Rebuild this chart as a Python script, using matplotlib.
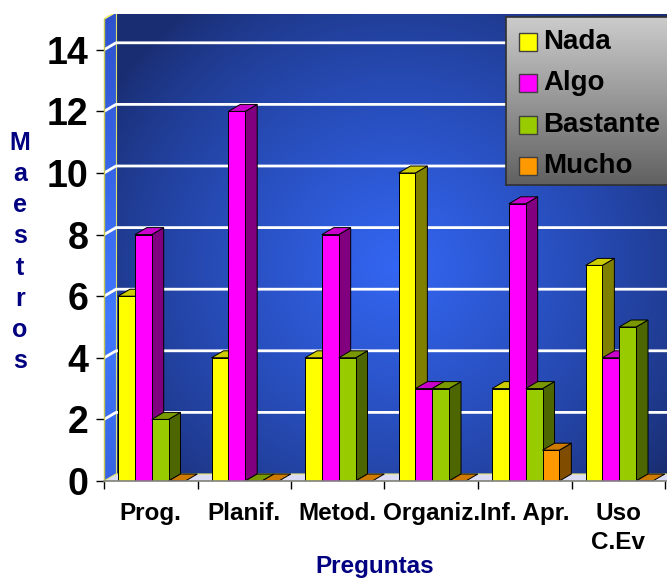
import matplotlib
matplotlib.use("Agg")
import matplotlib.pyplot as plt
import numpy as np
from matplotlib.patches import Polygon, Rectangle

plt.rcParams['font.family'] = ['Liberation Sans', 'DejaVu Sans']
plt.rcParams['font.weight'] = 'bold'

# data
preguntas = ['Prog.', 'Planif.', 'Metod.', 'Organiz.', 'Inf. Apr.', 'Uso\nC.Ev']
series = ['Nada', 'Algo', 'Bastante', 'Mucho']
nada = [6, 4, 4, 10, 3, 7]
algo = [8, 12, 8, 3, 9, 4]
bastante = [2, 0, 4, 3, 3, 5]
mucho = [0, 0, 0, 0, 1, 0]
valores = [nada, algo, bastante, mucho]

front_cols = ['#ffff00', '#ff00ff', '#99cc00', '#ff9900']
top_cols = ['#cccc00', '#cc00cc', '#7a9900', '#cc7a00']
side_cols = ['#808000', '#800080', '#4d6600', '#804d00']

W, H = 667, 581
fig = plt.figure(figsize=(W / 100, H / 100), dpi=100)
fig.patch.set_facecolor('white')

# plot area in pixels
px_left, px_right, px_bottom, px_top = 104, 667, 481, 14
ax = fig.add_axes([px_left / W, 1 - px_bottom / H, (px_right - px_left) / W, (px_bottom - px_top) / H])
cat_px = 93.5
unit_px = 30.8
xmax = (px_right - px_left) / cat_px
ymax = (px_bottom - px_top) / unit_px
ax.set_xlim(0, xmax)
ax.set_ylim(0, ymax)
ax.set_facecolor('white')

dx = 12 / cat_px   # depth offset
dy = 7 / unit_px
wall_top = 15

# back wall gradient
gx = np.linspace(0, 1, 300)
gy = np.linspace(0, 1, 300)
GX, GY = np.meshgrid(gx, gy)
r = np.sqrt(((GX - 0.5) / 0.6) ** 2 + ((GY - 0.45) / 0.7) ** 2)
f = np.clip(1 - r, 0, 1) ** 0.8
dark = np.array([0.10, 0.18, 0.45])
bright = np.array([0.20, 0.40, 0.95])
img = dark + (bright - dark) * f[..., None]
ax.imshow(img, extent=[dx, xmax + dx, dy, wall_top + dy], origin='lower',
          aspect='auto', zorder=0, interpolation='bilinear')

# left wall
lw = np.linspace(0, 1, 200)[:, None] * np.ones((1, 10))
lw_img = np.array([0.18, 0.32, 0.80]) + (np.array([0.25, 0.47, 1.0]) - np.array([0.18, 0.32, 0.80])) * (1 - np.abs(lw - 0.35) / 0.65)[..., None]
im = ax.imshow(lw_img, extent=[0, dx, 0, wall_top + dy], origin='lower', aspect='auto', zorder=0.5)
wall_poly = Polygon([(0, 0), (dx, dy), (dx, wall_top + dy), (0, wall_top)], closed=True,
                    facecolor='none', edgecolor='none')
ax.add_patch(wall_poly)
im.set_clip_path(wall_poly)

# floor
ax.add_patch(Polygon([(0, 0), (xmax, 0), (xmax + dx, dy), (dx, dy)], closed=True,
                     facecolor='#dcdcf5', edgecolor='#e8e870', linewidth=0.8, zorder=1))

# walls outline
ax.plot([0, dx, xmax + dx], [wall_top, wall_top + dy, wall_top + dy], color='#f0f070', lw=1.2, zorder=1)
ax.plot([dx, dx], [dy, wall_top + dy], color='#e0e070', lw=0.8, zorder=1)

# gridlines
for v in range(2, 15, 2):
    ax.plot([0, dx, xmax + dx], [v, v + dy, v + dy], color='white', lw=2, zorder=1.5)

# 3d bars
bw = 0.18
off = 0.15
for i in range(len(preguntas)):
    for j in range(len(series)):
        h = valores[j][i]
        x0 = i + off + j * bw
        x1 = x0 + bw
        z = 2 + i * 10 + j
        if h > 0:
            ax.add_patch(Polygon([(x1, 0), (x1 + dx, dy), (x1 + dx, h + dy), (x1, h)], closed=True,
                                 facecolor=side_cols[j], edgecolor='black', linewidth=0.7, zorder=z))
        ax.add_patch(Polygon([(x0, h), (x1, h), (x1 + dx, h + dy), (x0 + dx, h + dy)], closed=True,
                             facecolor=top_cols[j], edgecolor='black', linewidth=0.7, zorder=z))
        if h > 0:
            ax.add_patch(Rectangle((x0, 0), bw, h, facecolor=front_cols[j],
                                   edgecolor='black', linewidth=0.7, zorder=z))

# axes styling
for s in ['top', 'right']:
    ax.spines[s].set_visible(False)
ax.spines['left'].set_color('#c8c850')
ax.spines['left'].set_linewidth(1)
ax.spines['left'].set_bounds(0, wall_top)
ax.spines['bottom'].set_color('#808080')
ax.spines['bottom'].set_linewidth(1.2)
ax.spines['left'].set_zorder(100)
ax.spines['bottom'].set_zorder(100)

ax.set_yticks(range(0, 15, 2))
ax.set_yticklabels([str(v) for v in range(0, 15, 2)], fontsize=27, fontweight='bold')
ax.tick_params(axis='y', length=6, width=1, color='black', pad=5)

ax.set_xticks(range(0, 7))
ax.set_xticklabels([''] * 7)
ax.tick_params(axis='x', which='major', length=6, width=1, color='black')
ax.set_xticks(np.arange(len(preguntas)) + 0.5, minor=True)
ax.set_xticklabels(preguntas, minor=True, fontsize=17.5, fontweight='bold', linespacing=1.35)
ax.tick_params(axis='x', which='minor', length=0, pad=15, labelsize=17.5)
for lab in ax.get_xticklabels(minor=True):
    lab.set_verticalalignment('top')

# axis titles
fig.text(375 / W, 1 - 567 / H, 'Preguntas', ha='center', va='center',
         fontsize=17.5, fontweight='bold', color='#000080')
fig.text(20 / W, 1 - 252 / H, '\n'.join('Maestros'), ha='center', va='center',
         fontsize=18, fontweight='bold', color='#000080', linespacing=1.38)

# legend box with gradient
lx0, lx1, ly0, ly1 = 506, 676, 17, 185
lax = fig.add_axes([lx0 / W, 1 - ly1 / H, (lx1 - lx0) / W, (ly1 - ly0) / H])
grad = np.linspace(0, 1, 100)[:, None] * np.ones((1, 2))
g_top = np.array([0.80, 0.80, 0.80])
g_bot = np.array([0.38, 0.38, 0.38])
gimg = g_bot + (g_top - g_bot) * grad[..., None]
lax.imshow(gimg, extent=[0, 1, 0, 1], origin='lower', aspect='auto')
lax.set_xlim(0, 1)
lax.set_ylim(0, 1)
lax.set_xticks([])
lax.set_yticks([])
for s in lax.spines.values():
    s.set_color('#303030')
    s.set_linewidth(1.2)
entry_y = [42, 83, 125, 166]
for k, name in enumerate(series):
    yc = (ly1 - entry_y[k]) / (ly1 - ly0)
    sq_w = 18 / (lx1 - lx0)
    sq_h = 18 / (ly1 - ly0)
    lax.add_patch(Rectangle((13 / (lx1 - lx0), yc - sq_h / 2), sq_w, sq_h,
                            facecolor=front_cols[k], edgecolor='#404040', linewidth=1))
    lax.text(37 / (lx1 - lx0), yc, name, ha='left', va='center',
             fontsize=20, fontweight='bold', color='black')

fig.savefig('out.png', dpi=100)
